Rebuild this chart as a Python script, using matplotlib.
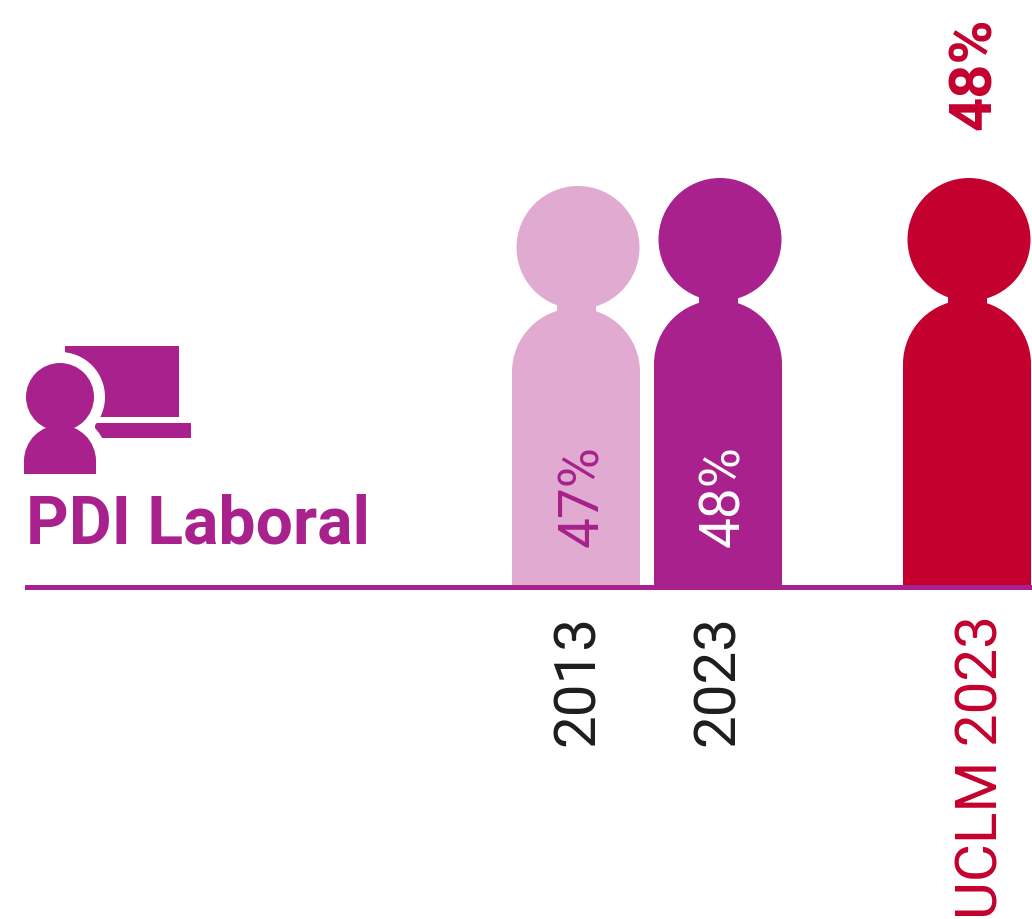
import matplotlib
matplotlib.use('Agg')
import matplotlib.pyplot as plt
from matplotlib.patches import Circle, Rectangle, Wedge

# Data
labels = ['2013', '2023', 'UCLM 2023']
values = [47, 48, 48]
value_texts = ['47%', '48%', '48%']

purple = '#A8218C'
light = '#E1ABD1'
red = '#C4002E'
black = '#1D1D1B'

plt.rcParams['font.family'] = ['Roboto', 'DejaVu Sans']

# Axes in pixels, y going down
fig = plt.figure(figsize=(10.32, 9.19), dpi=100)
ax = fig.add_axes([0, 0, 1, 1])
ax.set_xlim(0, 1032)
ax.set_ylim(919, 0)
ax.axis('off')

base = 586
px_per_point = 8
body_left = [512, 654, 903]
fills = [light, purple, red]
text_x = [583, 724, 975]
value_colors = [purple, 'white', red]
label_x = [578, 718, 982]
label_colors = [black, black, red]


def person(left, value, color):
    # height follows the value: 47 -> top at 186, 48 -> top at 178
    top = base - (value + 3) * px_per_point
    cx = left + 64
    head_cx = cx + 2
    ax.add_patch(Circle((head_cx, top + 61.5), 61.5, fc=color, ec='none'))
    ax.add_patch(Rectangle((cx - 19.5, top + 112), 39, 22, fc=color, ec='none'))
    ax.add_patch(Wedge((cx, top + 186), 64, 180, 360, fc=color, ec='none'))
    ax.add_patch(Rectangle((left, top + 185), 128, base - top - 185, fc=color, ec='none'))


for i in range(len(values)):
    person(body_left[i], values[i], fills[i])

ax.add_patch(Rectangle((25, 585), 1007, 5, fc=purple, ec='none', zorder=3))

# Value texts
for i in range(2):
    ax.text(text_x[i], 547, value_texts[i], rotation=90, ha='center', va='bottom',
            fontsize=39.5, color=value_colors[i])
ax.text(text_x[2], 130, value_texts[2], rotation=90, ha='center', va='bottom',
        fontsize=43, fontweight='bold', color=value_colors[2])

# Category labels
for i in range(len(labels)):
    ax.text(label_x[i], 615, labels[i], rotation=90, ha='center', va='top',
            fontsize=42, color=label_colors[i])

# Icon
ax.add_patch(Rectangle((65, 346), 114, 71, fc=purple, ec='none'))
ax.add_patch(Rectangle((95, 423), 96, 15, fc=purple, ec='none'))
ax.add_patch(Circle((60, 397), 45, fc='white', ec='none'))
ax.add_patch(Circle((60, 461), 48, fc='white', ec='none'))
ax.add_patch(Circle((60, 397), 34, fc=purple, ec='none'))
ax.add_patch(Wedge((60, 461), 36, 180, 360, fc=purple, ec='none'))
ax.add_patch(Rectangle((24, 460), 72, 14, fc=purple, ec='none'))

ax.text(25.5, 543, 'PDI Laboral', ha='left', va='baseline', fontsize=47.5,
        fontweight='bold', color=purple)

fig.savefig('out.png', dpi=100)
